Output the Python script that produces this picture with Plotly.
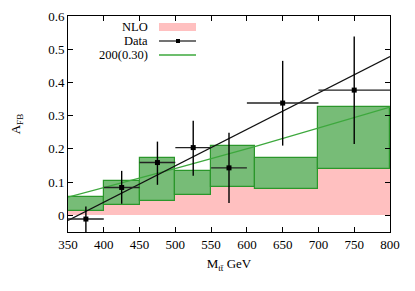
import plotly.graph_objects as go

# Bins
bin_lo = [350, 400, 450, 500, 550, 612, 700]
bin_hi = [400, 450, 500, 550, 612, 700, 800]
nlo = [0.014, 0.032, 0.042, 0.061, 0.085, 0.079, 0.139]
band_top = [0.055, 0.102, 0.174, 0.135, 0.210, 0.172, 0.327]

# Data points
data_x = [375, 425, 475, 525, 575, 650, 750]
data_xlo = [350, 400, 450, 500, 550, 600, 700]
data_xhi = [400, 450, 500, 550, 600, 700, 800]
data_y = [-0.011, 0.084, 0.159, 0.204, 0.143, 0.338, 0.377]
data_yhi = [0.027, 0.134, 0.222, 0.285, 0.249, 0.465, 0.538]
data_ylo = [-0.08, 0.035, 0.092, 0.119, 0.037, 0.210, 0.215]

# Fit line to data
fit_x = [350, 800]
fit_y = [-0.015, 0.478]

# 200(0.30) curve
g_x = [350, 437, 502, 611, 800]
g_y = [0.055, 0.104, 0.142, 0.207, 0.326]

centers = [(a + b) / 2 for a, b in zip(bin_lo, bin_hi)]
widths = [b - a for a, b in zip(bin_lo, bin_hi)]

PINK = "#ffc0c0"
GFILL = "#77bc77"
GEDGE = "#2b962b"
GLINE = "#3da83d"

fig = go.Figure()
fig.add_trace(go.Bar(x=centers, y=nlo, base=[0] * len(nlo), width=widths,
                     marker=dict(color=PINK, line=dict(width=0)), showlegend=False))
fig.add_trace(go.Bar(x=centers, y=[t - n for t, n in zip(band_top, nlo)], base=nlo, width=widths,
                     marker=dict(color=GFILL, line=dict(color=GEDGE, width=1.2)), showlegend=False))

fig.add_trace(go.Scatter(x=g_x, y=g_y, mode="lines", line=dict(color=GLINE, width=1.3),
                         showlegend=False, hoverinfo="skip"))
fig.add_trace(go.Scatter(x=fit_x, y=fit_y, mode="lines", line=dict(color="#111111", width=1.2),
                         showlegend=False, hoverinfo="skip"))

fig.add_trace(go.Scatter(
    x=data_x, y=data_y, mode="markers",
    marker=dict(symbol="square", size=5, color="black"),
    error_y=dict(type="data", symmetric=False,
                 array=[h - y for h, y in zip(data_yhi, data_y)],
                 arrayminus=[y - l for l, y in zip(data_ylo, data_y)],
                 color="black", thickness=1.4, width=0),
    error_x=dict(type="data", symmetric=False,
                 array=[h - x for h, x in zip(data_xhi, data_x)],
                 arrayminus=[x - l for l, x in zip(data_xlo, data_x)],
                 color="#222222", thickness=1.4, width=0),
    showlegend=False))

font = dict(family="Liberation Serif, Times New Roman, serif", size=13, color="black")
legfont = dict(family="Liberation Serif, Times New Roman, serif", size=12.5, color="black")

# Plot area in page pixels: x 68..390, y 16..232 (page body has an 8px margin)
L, T, PW, PH = 60, 8, 322, 216

def px(xp):
    return (xp - 68) / PW

def py(yp):
    return (232 - yp) / PH

leg_rows = [("NLO", 27), ("Data", 41), ("200(0.30)", 55)]
annotations = []
for txt, yp in leg_rows:
    annotations.append(dict(text=txt, xref="paper", yref="paper",
                            x=px(150), y=py(yp),
                            xanchor="right", yanchor="middle", showarrow=False, font=legfont))
shapes = [
    dict(type="rect", xref="paper", yref="paper", x0=px(159), x1=px(196),
         y0=py(31), y1=py(23), fillcolor=PINK, line=dict(width=0)),
    dict(type="line", xref="paper", yref="paper", x0=px(159), x1=px(196),
         y0=py(41), y1=py(41), line=dict(color="#444444", width=1.3)),
    dict(type="rect", xref="paper", yref="paper", x0=px(176), x1=px(180),
         y0=py(43), y1=py(39), fillcolor="black", line=dict(width=0)),
    dict(type="line", xref="paper", yref="paper", x0=px(159), x1=px(196),
         y0=py(55), y1=py(55), line=dict(color=GLINE, width=1.3)),
]

fig.update_layout(
    width=L + PW + 25, height=T + PH + 59,
    margin=dict(l=L, r=25, t=T, b=59, autoexpand=False),
    paper_bgcolor="white", plot_bgcolor="white",
    font=font, barmode="overlay", bargap=0,
    annotations=annotations, shapes=shapes,
    xaxis=dict(range=[350, 800], tickvals=[350, 400, 450, 500, 550, 600, 650, 700, 750, 800],
               ticks="inside", ticklen=5, tickcolor="black", mirror="allticks", automargin=False,
               showline=True, linecolor="black", linewidth=1, showgrid=False, zeroline=False,
               title=dict(text="M<sub>tt̄</sub> GeV", font=font, standoff=8), tickfont=font),
    yaxis=dict(range=[-0.05, 0.6], tickvals=[0, 0.1, 0.2, 0.3, 0.4, 0.5, 0.6],
               ticktext=["0", "0.1", "0.2", "0.3", "0.4", "0.5", "0.6"],
               ticks="inside", ticklen=5, tickcolor="black", mirror="allticks", automargin=False,
               showline=True, linecolor="black", linewidth=1, showgrid=False, zeroline=False,
               title=dict(text="A<sub>FB</sub>", font=font, standoff=30), tickfont=font),
)

fig.write_html("out.html")
